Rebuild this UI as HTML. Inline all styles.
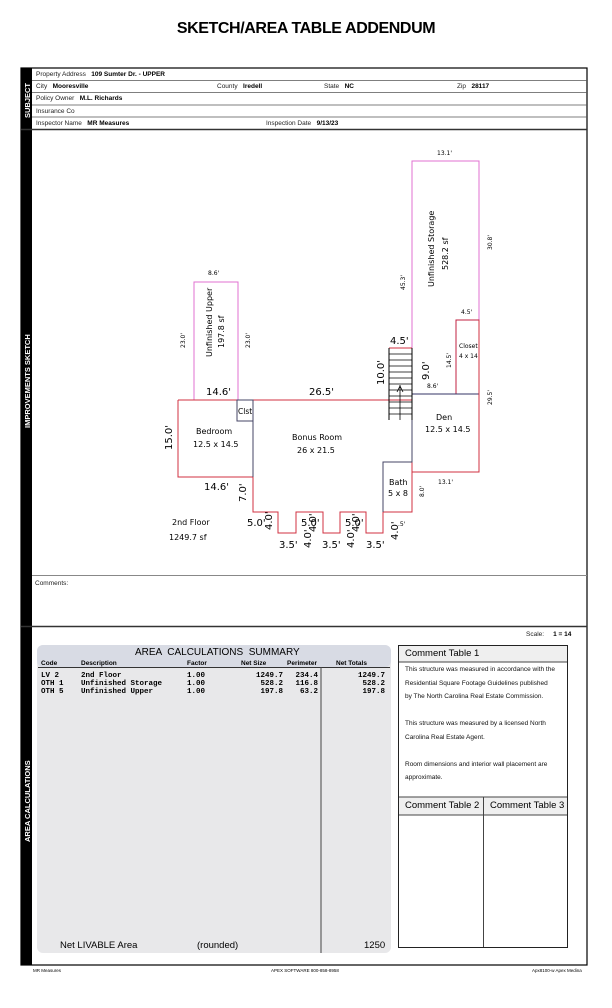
<!DOCTYPE html>
<html><head><meta charset="utf-8"><style>
body{margin:0;width:612px;height:1008px;background:#fff;position:relative;font-family:"Liberation Sans",sans-serif;overflow:hidden}
.a{position:absolute;white-space:nowrap}
.s{font-size:6.5px;color:#222}
.b{font-weight:bold;color:#000}
.mono{font-family:"Liberation Mono",monospace;font-size:7.5px;font-weight:bold}
</style></head><body>
<div class="a" style="left:0;width:612px;top:20px;text-align:center;font-weight:bold;font-size:16px;letter-spacing:-0.4px">SKETCH/AREA TABLE ADDENDUM</div>
<svg class="a" style="left:0;top:0" width="612" height="1008">
<rect x="21" y="68" width="566" height="897" fill="none" stroke="#000" stroke-width="1.2"/>
<rect x="21" y="68" width="11" height="897" fill="#000"/>
<g stroke="#555" stroke-width="0.8">
<line x1="32" y1="80.5" x2="587" y2="80.5"/><line x1="32" y1="92.5" x2="587" y2="92.5"/>
<line x1="32" y1="105" x2="587" y2="105"/><line x1="32" y1="117" x2="587" y2="117"/>
</g>
<line x1="21" y1="129.5" x2="587" y2="129.5" stroke="#333" stroke-width="1.4"/>
<line x1="32" y1="575.5" x2="587" y2="575.5" stroke="#888" stroke-width="1"/>
<line x1="21" y1="626.5" x2="587" y2="626.5" stroke="#333" stroke-width="1.4"/>
<g fill="#fff" font-size="7.5" font-weight="bold" font-family="Liberation Sans">
<text transform="translate(30,118) rotate(-90)">SUBJECT</text>
<text transform="translate(30,428) rotate(-90)">IMPROVEMENTS SKETCH</text>
<text transform="translate(30,842) rotate(-90)">AREA CALCULATIONS</text>
</g>
<g fill="none" stroke-width="1">
<rect x="194" y="282" width="44" height="118" stroke="#e070d0"/>
<path d="M412 394 V161 H479 V320" stroke="#e070d0"/>
<rect x="456" y="320" width="23" height="74" stroke="#c02040"/>
<path d="M412 394 H479" stroke="#336"/>
<path d="M178 400 H412 M178 400 V477 H253 V512 H278 V533 H296 V512 H323 V533 H340 V512 H366 V533 H383 V512 H412 V420 M412 472 H479 V320" stroke="#d03040"/>
<path d="M253 400 V477" stroke="#446"/>
<rect x="237" y="400" width="16" height="21" stroke="#446"/>
<path d="M383 512 V462 H412 V394" stroke="#446"/>
<path d="M389 348 H412" stroke="#d03040"/>
<path d="M389 348 V420 M412 348 V420" stroke="#000"/>
<g stroke="#000" stroke-width="0.8">
<line x1="389" y1="354" x2="412" y2="354"/><line x1="389" y1="360" x2="412" y2="360"/><line x1="389" y1="366" x2="412" y2="366"/><line x1="389" y1="372" x2="412" y2="372"/><line x1="389" y1="378" x2="412" y2="378"/><line x1="389" y1="384" x2="412" y2="384"/><line x1="389" y1="390" x2="412" y2="390"/><line x1="389" y1="396" x2="412" y2="396"/><line x1="389" y1="402" x2="412" y2="402"/><line x1="389" y1="408" x2="412" y2="408"/><line x1="389" y1="414" x2="412" y2="414"/>
<line x1="400" y1="385" x2="400" y2="420"/><path d="M397 392 L400 386 L403 392"/>
</g>
</g>
<g font-family="DejaVu Sans,sans-serif" fill="#000">
<g font-size="10">
<text x="206" y="395">14.6'</text><text x="309" y="395">26.5'</text><text x="390" y="344">4.5'</text>
<text x="204" y="490">14.6'</text><text x="247" y="526">5.0'</text><text x="301" y="526">5.0'</text><text x="345" y="526">5.0'</text>
<text x="279" y="548">3.5'</text><text x="322" y="548">3.5'</text><text x="366" y="548">3.5'</text>
<text transform="translate(172,450) rotate(-90)">15.0'</text>
<text transform="translate(246,502) rotate(-90)">7.0'</text>
<text transform="translate(384,385) rotate(-90)">10.0'</text>
<text transform="translate(429,380) rotate(-90)">9.0'</text>
<text transform="translate(272,530) rotate(-90)">4.0'</text>
<text transform="translate(316,532) rotate(-90)">4.0'</text>
<text transform="translate(359,532) rotate(-90)">4.0'</text>
<text transform="translate(311,548) rotate(-90)">4.0'</text>
<text transform="translate(354,548) rotate(-90)">4.0'</text>
<text transform="translate(398,540) rotate(-90)">4.0'</text>
</g>
<g font-size="8">
<text x="196" y="434">Bedroom</text><text x="193" y="447">12.5 x 14.5</text>
<text x="292" y="440">Bonus Room</text><text x="297" y="453">26 x 21.5</text>
<text x="436" y="420">Den</text><text x="425" y="432">12.5 x 14.5</text>
<text x="389" y="485">Bath</text><text x="388" y="496">5 x 8</text>
<text x="238" y="414" font-size="7.5">Clst</text>
<text x="172" y="525">2nd Floor</text><text x="169" y="540">1249.7 sf</text>
<text transform="translate(212,357) rotate(-90)">Unfinished Upper</text>
<text transform="translate(224,348) rotate(-90)">197.8 sf</text>
<text transform="translate(434,287) rotate(-90)">Unfinished Storage</text>
<text transform="translate(448,270) rotate(-90)">528.2 sf</text>
</g>
<g font-size="6">
<text x="208" y="275">8.6'</text><text x="437" y="155">13.1'</text><text x="461" y="314">4.5'</text>
<text x="427" y="388">8.6'</text><text x="438" y="484">13.1'</text><text x="398" y="526">.5'</text>
<text x="459" y="348">Closet</text><text x="459" y="358">4 x 14</text>
<text transform="translate(185,348) rotate(-90)">23.0'</text>
<text transform="translate(250,348) rotate(-90)">23.0'</text>
<text transform="translate(405,290) rotate(-90)">45.3'</text>
<text transform="translate(492,250) rotate(-90)">30.8'</text>
<text transform="translate(451,368) rotate(-90)">14.5'</text>
<text transform="translate(492,405) rotate(-90)">29.5'</text>
<text transform="translate(424,497) rotate(-90)">8.0'</text>
</g>
</g>
<rect x="37" y="645" width="354" height="308" rx="6" fill="#e8e8ea"/>
<rect x="37" y="645" width="354" height="22" rx="6" fill="#d8dbe4"/>
<line x1="38" y1="667.5" x2="390" y2="667.5" stroke="#333"/>
<line x1="321" y1="667" x2="321" y2="953" stroke="#444"/>
<rect x="398.5" y="645.5" width="169" height="302" fill="#fff" stroke="#222"/>
<rect x="399" y="646" width="168" height="16" fill="#efefef"/>
<line x1="399" y1="662" x2="567" y2="662" stroke="#444"/>
<line x1="399" y1="797" x2="567" y2="797" stroke="#444"/>
<rect x="399" y="797.5" width="168" height="17" fill="#efefef"/>
<line x1="399" y1="815" x2="567" y2="815" stroke="#444"/>
<line x1="483.5" y1="797" x2="483.5" y2="947" stroke="#444"/>
</svg>
<div class="a s" style="left:36px;top:71px">Property Address <b class="b">&nbsp; 109 Sumter Dr. - UPPER</b></div>
<div class="a s" style="left:36px;top:83px">City <b class="b">&nbsp; Mooresville</b></div>
<div class="a s" style="left:217px;top:83px">County <b class="b">&nbsp; Iredell</b></div>
<div class="a s" style="left:324px;top:83px">State <b class="b">&nbsp; NC</b></div>
<div class="a s" style="left:457px;top:83px">Zip <b class="b">&nbsp; 28117</b></div>
<div class="a s" style="left:36px;top:95px">Policy Owner <b class="b">&nbsp; M.L. Richards</b></div>
<div class="a s" style="left:36px;top:108px">Insurance Co</div>
<div class="a s" style="left:36px;top:120px">Inspector Name <b class="b">&nbsp; MR Measures</b></div>
<div class="a s" style="left:266px;top:120px">Inspection Date <b class="b">&nbsp; 9/13/23</b></div>
<div class="a s" style="left:35px;top:580px">Comments:</div>
<div class="a s" style="left:526px;top:631px">Scale: <b class="b">&nbsp;&nbsp;&nbsp; 1 = 14</b></div>
<div class="a" style="left:135px;top:647px;font-size:10px">AREA &nbsp;CALCULATIONS &nbsp;SUMMARY</div>
<div class="a s b" style="left:41px;top:660px">Code</div>
<div class="a s b" style="left:81px;top:660px">Description</div>
<div class="a s b" style="left:187px;top:660px">Factor</div>
<div class="a s b" style="left:241px;top:660px">Net Size</div>
<div class="a s b" style="left:287px;top:660px">Perimeter</div>
<div class="a s b" style="left:336px;top:660px">Net Totals</div>
<div class="a mono" style="left:41px;top:672px;line-height:8px">LV 2<br>OTH 1<br>OTH 5</div>
<div class="a mono" style="left:81px;top:672px;line-height:8px">2nd Floor<br>Unfinished Storage<br>Unfinished Upper</div>
<div class="a mono" style="left:187px;top:672px;line-height:8px">1.00<br>1.00<br>1.00</div>
<div class="a mono" style="left:241px;top:672px;line-height:8px;text-align:right;width:42px">1249.7<br>528.2<br>197.8</div>
<div class="a mono" style="left:280px;top:672px;line-height:8px;text-align:right;width:38px">234.4<br>116.8<br>63.2</div>
<div class="a mono" style="left:330px;top:672px;line-height:8px;text-align:right;width:55px">1249.7<br>528.2<br>197.8</div>
<div class="a" style="left:60px;top:940px;font-size:9.5px">Net LIVABLE Area</div>
<div class="a" style="left:197px;top:940px;font-size:9.5px">(rounded)</div>
<div class="a" style="left:364px;top:940px;font-size:9.5px">1250</div>
<div class="a" style="left:405px;top:648px;font-size:9.5px">Comment Table 1</div>
<div class="a" style="left:405px;top:663px;font-size:6.5px;line-height:13.5px;color:#111">This structure was measured in accordance with the<br>Residential Square Footage Guidelines published<br>by The North Carolina Real Estate Commission.<br><br>This structure was measured by a licensed North<br>Carolina Real Estate Agent.<br><br>Room dimensions and interior wall placement are<br>approximate.</div>
<div class="a" style="left:405px;top:800px;font-size:9.5px">Comment Table 2</div>
<div class="a" style="left:490px;top:800px;font-size:9.5px">Comment Table 3</div>
<div class="a" style="left:33px;top:968px;font-size:4.5px">MR Measures</div>
<div class="a" style="left:271px;top:968px;font-size:4.5px">APEX SOFTWARE 800-858-8958</div>
<div class="a" style="left:532px;top:968px;font-size:4.5px">Apx8100-w Apex Medina</div>
</body></html>
